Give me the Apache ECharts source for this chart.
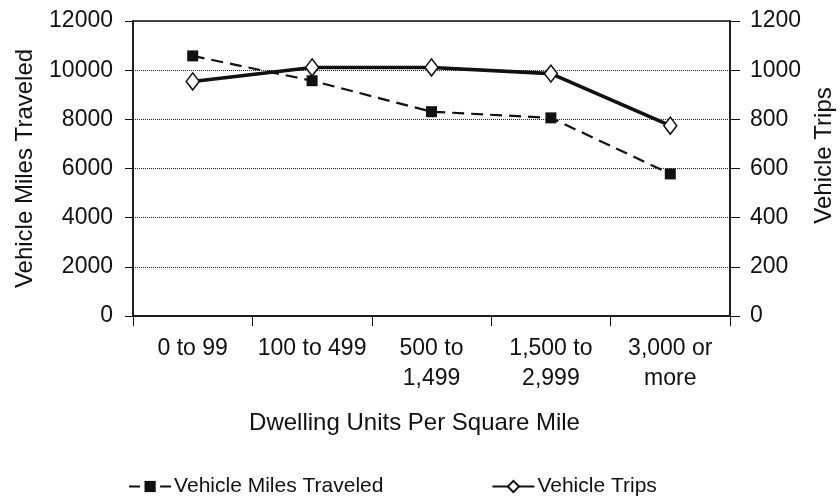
<!DOCTYPE html>
<html>
<head>
<meta charset="utf-8">
<script src="https://cdn.jsdelivr.net/npm/echarts@6/dist/echarts.min.js"></script>
<style>
	html, body { margin: 0; padding: 0; background: #fff; }
	#main { width: 840px; height: 496px; }
</style>
</head>
<body>
<div id="main"></div>
<script>
var categories = ['0 to 99', '100 to 499', '500 to\n1,499', '1,500 to\n2,999', '3,000 or\nmore'];
var milesTraveled = [10580, 9570, 8310, 8060, 5780];
var vehicleTrips = [954, 1011, 1011, 986, 774];
var leftTicks = [0, 12000, 2000];
var rightTicks = [0, 1200, 200];

var dom = document.getElementById('main');
var myChart = echarts.init(dom, null, { renderer: 'canvas' });

var font = 'Liberation Sans, Arial, sans-serif';
var ink = '#111';

function plain(v) {
	return String(v);
}

var option = {
	animation: false,
	textStyle: { fontFamily: font, color: ink },
	grid: {
		left: 133,
		right: 110,
		top: 21,
		bottom: 180,
		outerBoundsMode: 'none',
		containLabel: false,
		show: true,
		borderColor: ink,
		borderWidth: 1.5
	},
	legend: {
		left: 123,
		top: 471,
		itemWidth: 42,
		itemHeight: 14,
		itemGap: 108,
		textStyle: { fontSize: 21, color: ink, fontFamily: font, padding: [0, 0, 0, -2] },
		data: [
			{ name: 'Vehicle Miles Traveled', lineStyle: { type: [11, 20, 11], width: 2.2 } },
			{ name: 'Vehicle Trips' }
		]
	},
	xAxis: {
		type: 'category',
		data: categories,
		name: 'Dwelling Units Per Square Mile',
		nameLocation: 'middle',
		nameGap: 95,
		nameTextStyle: { fontSize: 24, color: ink, padding: [0, 34, 0, 0] },
		axisLine: { lineStyle: { color: ink, width: 1.5 } },
		axisTick: { show: true, length: 10, interval: 0, lineStyle: { color: ink } },
		axisLabel: { fontSize: 23, color: ink, lineHeight: 30, margin: 18, interval: 0 }
	},
	yAxis: [{
		type: 'value',
		min: leftTicks[0],
		max: leftTicks[1],
		interval: leftTicks[2],
		name: 'Vehicle Miles Traveled',
		nameLocation: 'middle',
		nameRotate: 90,
		nameGap: 96,
		nameTextStyle: { fontSize: 24, color: ink },
		axisLine: { show: true, lineStyle: { color: ink, width: 1.5 } },
		axisTick: { show: true, length: 8, lineStyle: { color: ink } },
		axisLabel: { fontSize: 23, color: ink, margin: 20, formatter: plain },
		splitLine: { show: true, lineStyle: { color: '#222', type: 'dotted', width: 1 } }
	}, {
		type: 'value',
		position: 'right',
		min: rightTicks[0],
		max: rightTicks[1],
		interval: rightTicks[2],
		name: 'Vehicle Trips',
		nameLocation: 'middle',
		nameRotate: 90,
		nameGap: 82,
		nameTextStyle: { fontSize: 24, color: ink, padding: [0, 0, 0, 26] },
		axisLine: { show: true, lineStyle: { color: ink, width: 1.5 } },
		axisTick: { show: true, length: 10, lineStyle: { color: ink } },
		axisLabel: { fontSize: 23, color: ink, margin: 20, formatter: plain },
		splitLine: { show: false }
	}],
	series: [{
		name: 'Vehicle Miles Traveled',
		type: 'line',
		yAxisIndex: 0,
		data: milesTraveled,
		symbol: 'rect',
		symbolSize: 11,
		itemStyle: { color: ink },
		lineStyle: { color: ink, width: 2.2, type: [12, 7] }
	}, {
		name: 'Vehicle Trips',
		type: 'line',
		yAxisIndex: 1,
		data: vehicleTrips,
		symbol: 'diamond',
		symbolSize: [13, 17],
		showAllSymbol: true,
		itemStyle: { color: '#fff', borderColor: ink, borderWidth: 1.5 },
		lineStyle: { color: ink, width: 3.6 }
	}]
};

if (option && typeof option === 'object') {
	myChart.setOption(option);
}

window.addEventListener('resize', myChart.resize);
</script>
</body>
</html>
